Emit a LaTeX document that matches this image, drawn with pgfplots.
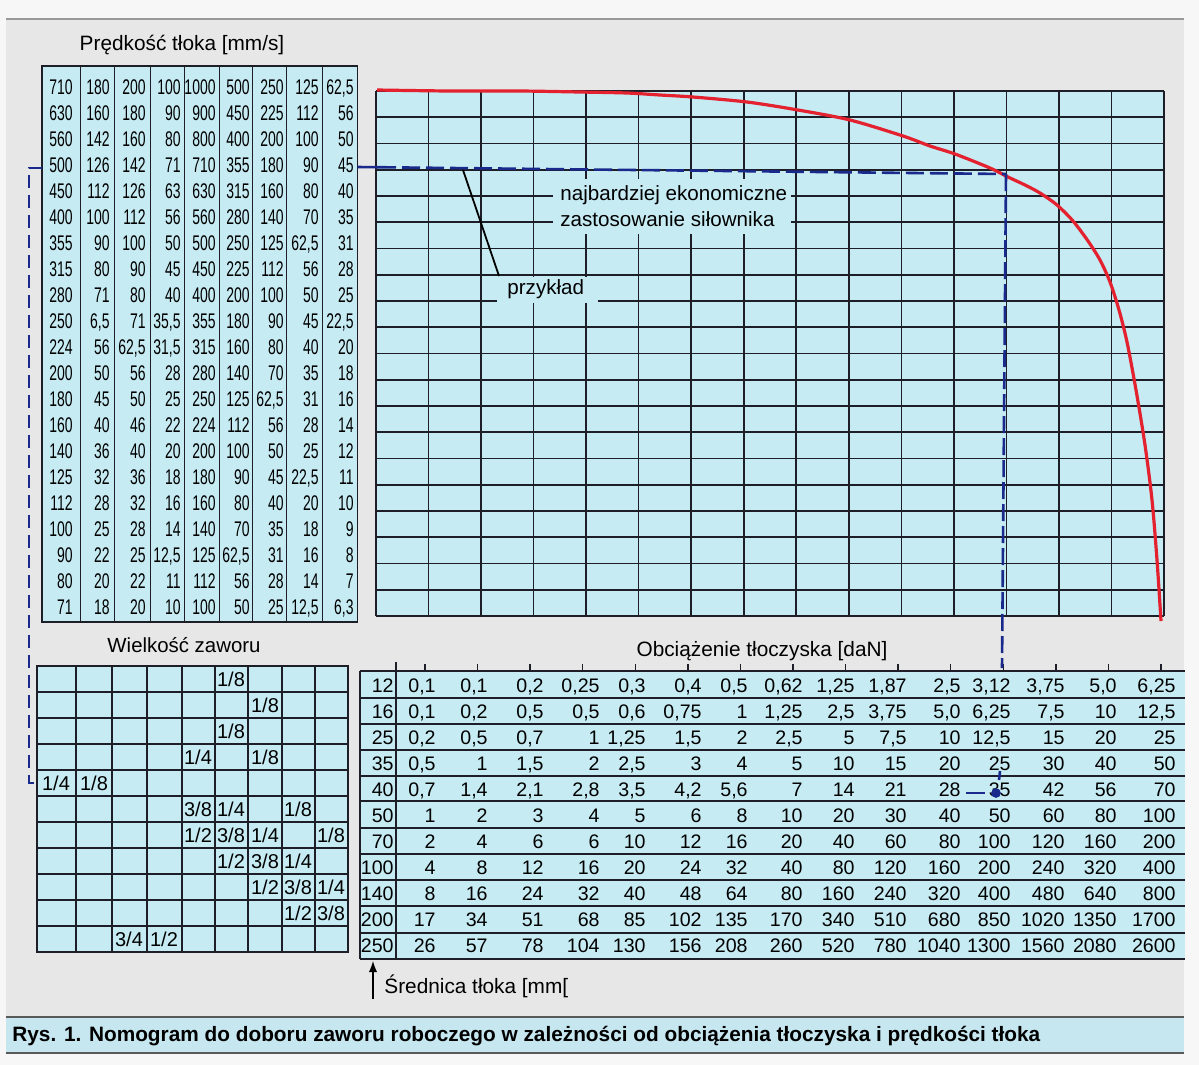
\documentclass[border=0pt]{standalone}
\usepackage{pgfplots}
\pgfplotsset{compat=1.18}
\usepackage{fontspec}
\setmainfont{Liberation Sans}
\newfontfamily\cond[FakeStretch=0.66]{Liberation Sans}
\definecolor{cy}{HTML}{C6EBF3}
\definecolor{bg}{HTML}{E7E7E7}
\definecolor{pg}{HTML}{F7F7F7}
\definecolor{capb}{HTML}{C6E7F0}
\definecolor{ln}{HTML}{1E1E28}
\definecolor{rd}{HTML}{E3212F}
\definecolor{bl}{HTML}{1A2A8C}
\tikzset{
  tlnum/.style={anchor=east,inner sep=0pt,text height=0.72em,text depth=0pt,font=\cond\fontsize{10.6}{12}\selectfont},
  brnum/.style={anchor=east,inner sep=0pt,text height=0.72em,text depth=0pt,font=\fontsize{9.8}{11}\selectfont},
  frnum/.style={anchor=center,inner sep=0pt,text height=0.72em,text depth=0pt,font=\fontsize{10}{11}\selectfont},
}
\newcommand\tlrow[2]{\foreach \v [count=\i] in {#2} {\pgfmathsetmacro\xx{{73,110,146,181,216,250,284,319,354}[\i-1]}\node[tlnum] at (\xx,#1) {\v};}}
\newcommand\brrow[3]{\node[brnum] at (394,#1) {#2};\foreach \v [count=\i] in {#3} {\pgfmathsetmacro\xx{{436,488,544,600,646,702,748,803,855,907,961,1011,1065,1117,1176}[\i-1]}\node[brnum] at (\xx,#1) {\v};}}
\newcommand\fr[3]{\pgfmathsetmacro\xx{{56,94,129,164,198,231,265,298,331}[#2-1]}\pgfmathsetmacro\yy{679+26*(#1-1)}\node[frnum] at (\xx,\yy) {#3};}
\begin{document}
\begin{tikzpicture}[x=0.5pt,y=-0.5pt]
\useasboundingbox (0,0) rectangle (1199,1065);
\fill[pg] (0,0) rectangle (1199,1065);
\fill[bg] (6,19) rectangle (1184,1017);
\draw[gray!80, line width=0.6pt] (6,19) -- (1184,19);
\fill[capb] (6,1017) rectangle (1184,1053);
\draw[gray!70!black, line width=0.7pt] (6,1017) -- (1184,1017);
\draw[gray!70!black, line width=0.7pt] (6,1053) -- (1184,1053);

% ---------- top-left speed table
\fill[cy] (42,66) rectangle (357.5,622);
\foreach \x in {80.5,114.5,150.5,184.5,219.5,252.5,286.5,322.5} \draw[ln,line width=0.7pt] (\x,66) -- (\x,622);
\draw[ln, line width=0.9pt] (42,66) rectangle (357.5,622);
\tlrow{87}{710,180,200,100,1000,500,250,125,{62,5}}
\tlrow{113}{630,160,180,90,900,450,225,112,56}
\tlrow{139}{560,142,160,80,800,400,200,100,50}
\tlrow{165}{500,126,142,71,710,355,180,90,45}
\tlrow{191}{450,112,126,63,630,315,160,80,40}
\tlrow{217}{400,100,112,56,560,280,140,70,35}
\tlrow{243}{355,90,100,50,500,250,125,{62,5},31}
\tlrow{269}{315,80,90,45,450,225,112,56,28}
\tlrow{295}{280,71,80,40,400,200,100,50,25}
\tlrow{321}{250,{6,5},71,{35,5},355,180,90,45,{22,5}}
\tlrow{347}{224,56,{62,5},{31,5},315,160,80,40,20}
\tlrow{373}{200,50,56,28,280,140,70,35,18}
\tlrow{399}{180,45,50,25,250,125,{62,5},31,16}
\tlrow{425}{160,40,46,22,224,112,56,28,14}
\tlrow{451}{140,36,40,20,200,100,50,25,12}
\tlrow{477}{125,32,36,18,180,90,45,{22,5},11}
\tlrow{503}{112,28,32,16,160,80,40,20,10}
\tlrow{529}{100,25,28,14,140,70,35,18,9}
\tlrow{555}{90,22,25,{12,5},125,{62,5},31,16,8}
\tlrow{581}{80,20,22,11,112,56,28,14,7}
\tlrow{607}{71,18,20,10,100,50,25,{12,5},{6,3}}
\node[font=\fontsize{10.4}{12}\selectfont] at (182,45) {Prędkość tłoka [mm/s]};

% ---------- main grid
\fill[cy] (376,91) rectangle (1164,616);
\foreach \k in {0,...,15} \draw[ln,line width=0.8pt] ({376+52.53*\k},91) -- ({376+52.53*\k},616);
\foreach \k in {0,...,20} \draw[ln,line width=0.8pt] (376,{91+26.25*\k}) -- (1164,{91+26.25*\k});
\fill[cy] (553,179) rectangle (791,234);
\fill[cy] (497,277) rectangle (598,303);
\draw[black,line width=0.9pt] (463,170) -- (499,276);
\node[anchor=west,inner sep=0pt,font=\fontsize{10.3}{12}\selectfont] at (560,195) {najbardziej ekonomiczne};
\node[anchor=west,inner sep=0pt,font=\fontsize{10.3}{12}\selectfont] at (560,219) {zastosowanie siłownika};
\node[anchor=west,inner sep=0pt,font=\fontsize{10.3}{12}\selectfont] at (507,289) {przykład};

% ---------- bottom-left valve table
\node[font=\fontsize{10.2}{12}\selectfont] at (184,645) {Wielkość zaworu};
\fill[cy] (37,666) rectangle (348,952);
\foreach \x in {76,112,147,182,215,248,282,315} \draw[ln,line width=0.7pt] (\x,666) -- (\x,952);
\foreach \k in {1,...,10} \draw[ln,line width=0.7pt] (37,{666+26*\k}) -- (348,{666+26*\k});
\draw[ln, line width=0.9pt] (37,666) rectangle (348,952);
\fr{1}{6}{1/8}
\fr{2}{7}{1/8}
\fr{3}{6}{1/8}
\fr{4}{5}{1/4}\fr{4}{7}{1/8}
\fr{5}{1}{1/4}\fr{5}{2}{1/8}
\fr{6}{5}{3/8}\fr{6}{6}{1/4}\fr{6}{8}{1/8}
\fr{7}{5}{1/2}\fr{7}{6}{3/8}\fr{7}{7}{1/4}\fr{7}{9}{1/8}
\fr{8}{6}{1/2}\fr{8}{7}{3/8}\fr{8}{8}{1/4}
\fr{9}{7}{1/2}\fr{9}{8}{3/8}\fr{9}{9}{1/4}
\fr{10}{8}{1/2}\fr{10}{9}{3/8}
\fr{11}{3}{3/4}\fr{11}{4}{1/2}

% ---------- bottom-right load table
\node[font=\fontsize{10.4}{12}\selectfont] at (762,651) {Obciążenie tłoczyska [daN]};
\fill[cy] (360,671) rectangle (1185,959);
\foreach \y in {671,698,724,750,776,801,828,854,880,906,933,959} \draw[ln,line width=0.8pt] (360,\y) -- (1185,\y);
\draw[ln,line width=0.9pt] (360,671) -- (360,959);
\draw[ln,line width=0.9pt] (396,662) -- (396,959);
\foreach \k in {0,...,14} \draw[ln,line width=0.7pt] ({425+52.57*\k},664) -- ({425+52.57*\k},671);
\brrow{685}{12}{{0,1},{0,1},{0,2},{0,25},{0,3},{0,4},{0,5},{0,62},{1,25},{1,87},{2,5},{3,12},{3,75},{5,0},{6,25}}
\brrow{711}{16}{{0,1},{0,2},{0,5},{0,5},{0,6},{0,75},1,{1,25},{2,5},{3,75},{5,0},{6,25},{7,5},10,{12,5}}
\brrow{737}{25}{{0,2},{0,5},{0,7},1,{1,25},{1,5},2,{2,5},5,{7,5},10,{12,5},15,20,25}
\brrow{763}{35}{{0,5},1,{1,5},2,{2,5},3,4,5,10,15,20,25,30,40,50}
\brrow{789}{40}{{0,7},{1,4},{2,1},{2,8},{3,5},{4,2},{5,6},7,14,21,28,35,42,56,70}
\brrow{815}{50}{1,2,3,4,5,6,8,10,20,30,40,50,60,80,100}
\brrow{841}{70}{2,4,6,6,10,12,16,20,40,60,80,100,120,160,200}
\brrow{867}{100}{4,8,12,16,20,24,32,40,80,120,160,200,240,320,400}
\brrow{893}{140}{8,16,24,32,40,48,64,80,160,240,320,400,480,640,800}
\brrow{919}{200}{17,34,51,68,85,102,135,170,340,510,680,850,1020,1350,1700}
\brrow{945}{250}{26,57,78,104,130,156,208,260,520,780,1040,1300,1560,2080,2600}
\draw[black,line width=0.9pt,-latex] (373,999) -- (373,961);
\node[anchor=west,inner sep=0pt,font=\fontsize{10.4}{12}\selectfont] at (384,986) {Średnica tłoka [mm[};

\node[anchor=west,inner sep=0pt,font=\bfseries\fontsize{10.4}{12}\selectfont] at (12,1036) {Rys. 1. Nomogram do doboru zaworu roboczego w zależności od obciążenia tłoczyska i prędkości tłoka};

% ---------- curve and example lines on pgfplots axis (pixel units)
\begin{axis}[at={(0,0)}, anchor=north west, width=599.5pt, height=532.5pt, scale only axis,
  xmin=0, xmax=1199, ymin=0, ymax=1065, y dir=reverse, hide axis, clip=false]
\addplot[rd, line width=1.6pt, smooth, tension=0.5] coordinates {
 (377,90) (450,91) (520,91) (580,92) (627,93) (660,95) (693,97) (747,102) (798,110)
 (850,120) (903,136) (930,146) (955,154) (990,168) (1008,177) (1025,185) (1040,193)
 (1057,205) (1073,221) (1088,241) (1100,260) (1110,282) (1119,310) (1127,342)
 (1136,390) (1145,445) (1152,500) (1157,560) (1161,621)};
\addplot[bl, line width=1.3pt] coordinates {(357.5,167) (378,167.2)};
\addplot[bl, line width=1.3pt, dash pattern=on 9pt off 3pt] coordinates {(378,167.2) (1006,174)};
\addplot[bl, line width=1.3pt, dash pattern=on 8.5pt off 2.5pt] coordinates {(1006,174) (1002,668)};
\addplot[bl, line width=1.3pt, dash pattern=on 6.5pt off 3.5pt] coordinates {(42,168) (29,168) (29,783) (40,783)};
\addplot[bl, line width=1.3pt] coordinates {(1000,771) (999,780)};
\addplot[bl, line width=1.3pt] coordinates {(966,793) (985,793)};
\addplot[bl, only marks, mark=*, mark size=2.2pt] coordinates {(996,793)};
\end{axis}
\end{tikzpicture}
\end{document}
